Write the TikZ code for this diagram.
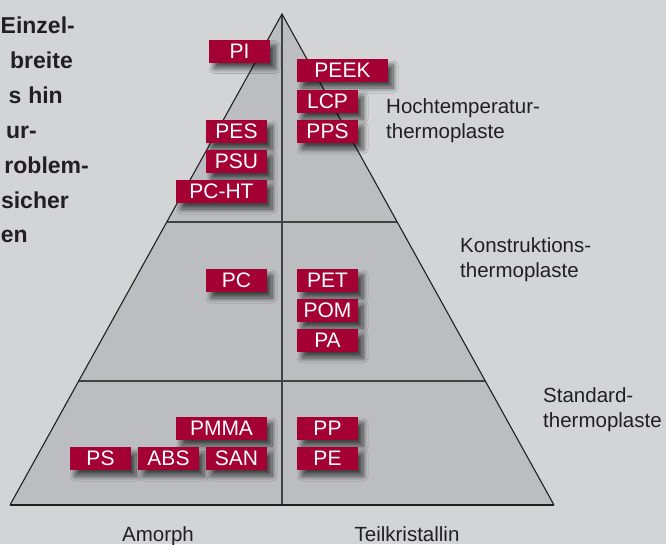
\documentclass[tikz,border=0pt]{standalone}
\usepackage{fontspec}
\setmainfont{Liberation Sans}
\usetikzlibrary{shadows.blur}
\definecolor{bg}{RGB}{211,212,214}
\definecolor{tri}{RGB}{188,189,193}
\definecolor{crim}{RGB}{165,0,52}
\definecolor{ink}{RGB}{35,31,32}
\begin{document}
\begin{tikzpicture}[x=1pt,y=-1pt,
  poly/.style={fill=crim, text=white, rectangle, inner sep=0pt,
    minimum height=23pt, minimum width=61pt,
    font=\fontsize{21}{24}\selectfont,
    blur shadow={shadow xshift=5pt, shadow yshift=-6pt, shadow blur radius=5pt, shadow opacity=65, shadow blur steps=10}},
  wide/.style={poly, minimum width=91pt},
  lbl/.style={anchor=base west, inner sep=0pt, text=ink, font=\fontsize{20.5}{25}\selectfont, align=left},
  axis/.style={anchor=base, inner sep=0pt, text=ink, font=\fontsize{20.5}{25}\selectfont},
  cut/.style={anchor=base east, inner sep=0pt, text=ink, font=\fontsize{23}{28}\selectfont\bfseries},
  outline/.style={draw=ink, line width=1.1pt},
  divider/.style={draw=ink!85, line width=1.4pt}]
\useasboundingbox (0,0) rectangle (666,544);
\fill[bg] (0,0) rectangle (666,544);
\begin{scope}
\clip (0,0) rectangle (666,544);
% pyramid
\coordinate (apex) at (282,14);
\coordinate (bl) at (10,505);
\coordinate (br) at (554,505);
\coordinate (bm) at (282,505);
\coordinate (l1) at (166.8,222);
\coordinate (r1) at (397.2,222);
\coordinate (l2) at (78.7,381);
\coordinate (r2) at (485.3,381);
\fill[tri] (apex) -- (bl) -- (br) -- cycle;
\draw[divider] (apex) -- (bm);
\draw[divider] (l1) -- (r1);
\draw[divider] (l2) -- (r2);
\draw[outline, line join=miter] (bl) -- (apex) -- (br);
\draw[outline] (bl) -- (br);
% cut-off text at left
\node[cut] (t1) at (75,33) {Einzel-};
\node[cut] (t2) at (73,68) {breite};
\node[cut] (t3) at (63,103) {s\hspace{7pt}hin};
\node[cut] (t4) at (37,138) {ur-};
\node[cut] (t5) at (89,173) {roblem-};
\node[cut] (t6) at (69,208) {sicher};
\node[cut] (t7) at (28,242) {en};
% boxes
\node[poly] (pi) at (239.5,51) {PI};
\node[wide] (peek) at (342.5,70.5) {PEEK};
\node[poly] (lcp) at (327.5,101.5) {LCP};
\node[poly] (pps) at (327.5,131.5) {PPS};
\node[poly] (pes) at (236.5,131.5) {PES};
\node[poly] (psu) at (236.5,161.5) {PSU};
\node[wide] (pcht) at (221.5,191.5) {PC-HT};
\node[poly] (pc) at (236.5,280.5) {PC};
\node[poly] (pet) at (327.5,280.5) {PET};
\node[poly] (pom) at (327.5,310.5) {POM};
\node[poly] (pa) at (327.5,340.5) {PA};
\node[wide] (pmma) at (221.5,428.5) {PMMA};
\node[poly] (ps) at (100.5,458.5) {PS};
\node[poly] (abs) at (168.5,458.5) {ABS};
\node[poly] (san) at (236.5,458.5) {SAN};
\node[poly] (pp) at (327.5,428.5) {PP};
\node[poly] (pe) at (327.5,458.5) {PE};
% labels
\node[lbl] (ht) at (386,138) {Hochtemperatur-\\thermoplaste};
\node[lbl] (kt) at (460,277) {Konstruktions-\\thermoplaste};
\node[lbl] (st) at (543,427) {Standard-\\thermoplaste};
\node[axis] (am) at (158,541) {Amorph};
\node[axis] (tk) at (407,541) {Teilkristallin};
\end{scope}
\end{tikzpicture}
\end{document}
